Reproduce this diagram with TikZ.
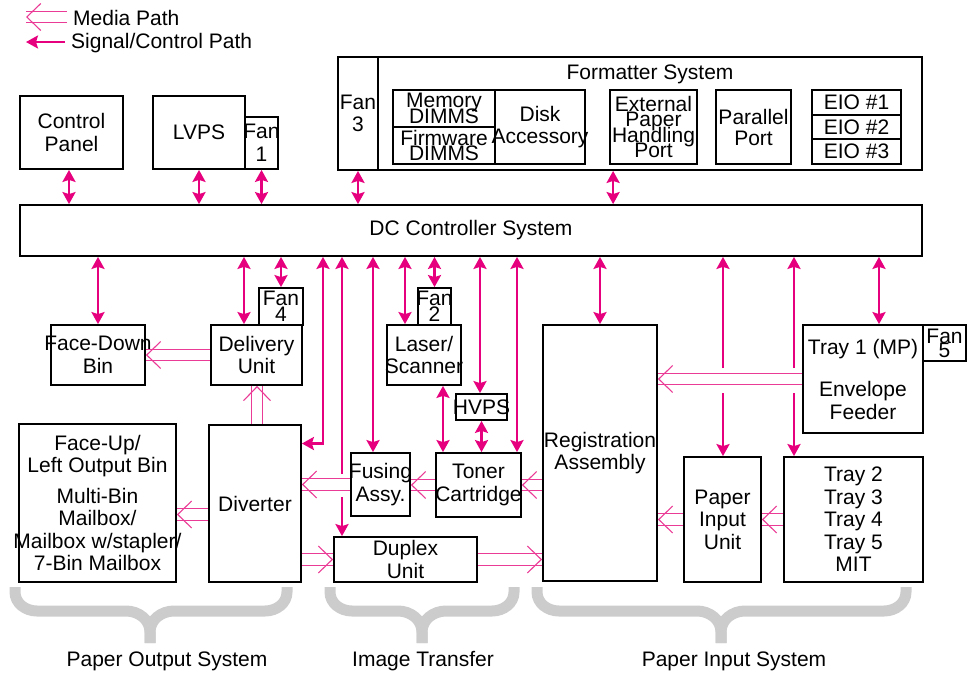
\documentclass[tikz,border=0pt]{standalone}
\usepackage{fontspec}
\setmainfont{Liberation Sans}
\usetikzlibrary{arrows.meta,positioning,calc,decorations.markings}
\definecolor{sigpink}{HTML}{E6007E}
\definecolor{medpink}{HTML}{EA3C96}
\newcommand\tightfont[1]{\fontsize{21}{#1}\selectfont\lineskiplimit-100pt\relax}
\tikzset{
  blk/.style={draw, line width=1.8pt, align=center, inner xsep=-25pt, inner ysep=-6pt,
              font=\fontsize{21}{22.5}\selectfont},
  tight/.style={font=\tightfont{15.5}},
  sig/.style={draw=sigpink, line width=2.4pt},
  media/.style={draw=medpink, line width=1.1pt, double=white, double distance=10.5pt,
    postaction={decorate, decoration={markings, mark=at position 1 with
      {\pgfsetinnerlinewidth{0pt}\arrow{Straight Barb[length=14pt,width=27pt,line width=1.1pt]}}}}},
  brc/.style={draw=black!20, line width=11pt},
  lbl/.style={font=\fontsize{21}{22.5}\selectfont, inner sep=0pt},
}
\begin{document}
\begin{tikzpicture}[x=1pt, y=-1pt, >={Stealth[length=12pt,width=13pt,inset=2pt]}]
    \useasboundingbox (0,0) rectangle (968,675);
    \coordinate (lgm0) at (67,17);
    \coordinate (lgm1) at (26,17);
    \coordinate (lgs0) at (65,42);
    \coordinate (lgs1) at (26,42);
    \draw[media] (lgm0) -- (lgm1);
    \draw[sig,->] (lgs0) -- (lgs1);
    \node[lbl, anchor=west] (lgmed) at (73,18) {Media Path};
    \node[lbl, anchor=west] (lgsig) at (71,43) {Signal/Control Path};

    \node[blk, minimum width=103, minimum height=73] (cpanel) at (71.5,132.5) {Control\\Panel};
    \node[blk, minimum width=92, minimum height=73] (lvps) at (199,132.5) {LVPS};
    \node[blk, minimum width=33, minimum height=52] (fan1) at (261.5,143) {Fan\\1};
    \node[blk, minimum width=40, minimum height=113] (fan3) at (358,113.5) {Fan\\3};
    \node[blk, minimum width=544, minimum height=113] (fmt) at (650,113.5) {};
    \node[lbl] (fmttitle) at (650,74) {Formatter System};
    \node[blk, tight, minimum width=102, minimum height=37] (mem) at (444,108.5) {Memory\\DIMMS};
    \node[blk, tight, minimum width=102, minimum height=37] (fw) at (444,145.5) {Firmware\\DIMMS};
    \node[blk, minimum width=90, minimum height=74] (disk) at (540,127) {Disk\\Accessory};
    \node[blk, tight, minimum width=87, minimum height=74] (eph) at (653.5,127) {External\\Paper\\Handling\\Port};
    \node[blk, font=\tightfont{21}, minimum width=75, minimum height=74] (par) at (753.5,127) {Parallel\\Port};
    \node[blk, minimum width=89, minimum height=24.7] (eio1) at (856.5,102.3) {EIO \#1};
    \node[blk, minimum width=89, minimum height=24.7] (eio2) at (856.5,127) {EIO \#2};
    \node[blk, minimum width=89, minimum height=24.7] (eio3) at (856.5,151.7) {EIO \#3};
    \node[blk, minimum width=902, minimum height=51] (dc) at (471,230.5) {DC Controller System};

    \node[blk, minimum width=94, minimum height=60] (fdown) at (98,355) {Face-Down\\Bin};
    \node[blk, minimum width=91, minimum height=60] (deliv) at (256.5,355) {Delivery\\Unit};
    \node[blk, tight, minimum width=44, minimum height=37] (fan4) at (281,306.5) {Fan\\4};
    \node[blk, minimum width=157, minimum height=158] (faceup) at (97.5,503) {Face-Up/\\Left Output Bin\\[8pt]Multi-Bin\\Mailbox/\\Mailbox w/stapler/\\7-Bin Mailbox};
    \node[blk, minimum width=92, minimum height=157] (divert) at (255,503.5) {Diverter};
    \node[blk, minimum width=74, minimum height=60] (laser) at (424,355) {Laser/\\Scanner};
    \node[blk, tight, minimum width=33, minimum height=37] (fan2) at (434.5,306.5) {Fan\\2};
    \node[blk, minimum width=51, minimum height=26] (hvps) at (481.5,407) {HVPS};
    \node[blk, minimum width=59, minimum height=63] (fusing) at (380.5,484.5) {Fusing\\Assy.};
    \node[blk, minimum width=85, minimum height=64] (toner) at (478.5,485) {Toner\\Cartridge};
    \node[blk, minimum width=143, minimum height=45] (duplex) at (405.5,559.5) {Duplex\\Unit};
    \node[blk, minimum width=114, minimum height=256] (regist) at (600,453) {Registration\\Assembly};
    \node[blk, minimum width=120, minimum height=108] (tray1) at (863,379) {Tray 1 (MP)\\[20pt]Envelope\\Feeder};
    \node[blk, font=\tightfont{14}, minimum width=43, minimum height=36] (fan5) at (944.5,343) {Fan\\5};
    \node[blk, minimum width=77, minimum height=125] (pinput) at (722.5,519.5) {Paper\\Input\\Unit};
    \node[blk, minimum width=139, minimum height=125] (trays) at (853.5,519.5) {Tray 2\\Tray 3\\Tray 4\\Tray 5\\MIT};

    \draw[sig,<->] ([xshift=-2.5]cpanel.south) -- ([xshift=-2.5]cpanel.south |- dc.north);
    \draw[sig,<->] (lvps.south) -- (lvps.south |- dc.north);
    \draw[sig,<->] (fan1.south) -- (fan1.south |- dc.north);
    \draw[sig,<->] (fan3.south) -- (fan3.south |- dc.north);
    \draw[sig,<->] ([xshift=4]eph.west |- fmt.south) -- ([xshift=4]eph.west |- dc.north);

    \draw[sig,<->] (fdown.north) -- (fdown.north |- dc.south);
    \draw[sig,<->] ([xshift=-12.5]deliv.north) -- ([xshift=-12.5]deliv.north |- dc.south);
    \draw[sig,<->] (fan4.north) -- (fan4.north |- dc.south);
    \draw[sig,<->] (dc.south -| 323,0) |- ([yshift=60]divert.east);
    \coordinate (dx1) at (342,474);
    \coordinate (dx2) at (342,497);
    \draw[sig,->] (dx1) -- (dx1 |- dc.south);
    \draw[sig,->] (dx2) -- (dx2 |- duplex.north);
    \draw[sig,<->] ([xshift=-7.5]fusing.north) -- ([xshift=-7.5]fusing.north |- dc.south);
    \draw[sig,<->] ([xshift=-19]laser.north) -- ([xshift=-19]laser.north |- dc.south);
    \draw[sig,<->] (fan2.north) -- (fan2.north |- dc.south);
    \draw[sig,<->] ([xshift=-1.5]hvps.north) -- ([xshift=-1.5]hvps.north |- dc.south);
    \draw[sig,<->] ([xshift=38.5]toner.north) -- ([xshift=38.5]toner.north |- dc.south);
    \draw[sig,<->] (regist.north) -- (regist.north |- dc.south);
    \coordinate (pi1) at (723,368);
    \coordinate (pi2) at (723,393);
    \draw[sig,->] (pi1) -- (pi1 |- dc.south);
    \draw[sig,->] (pi2) -- (pi2 |- pinput.north);
    \coordinate (tr1) at (794,368);
    \coordinate (tr2) at (794,393);
    \draw[sig,->] (tr1) -- (tr1 |- dc.south);
    \draw[sig,->] (tr2) -- (tr2 |- trays.north);
    \draw[sig,<->] ([xshift=16]tray1.north) -- ([xshift=16]tray1.north |- dc.south);
    \draw[sig,<->] ([xshift=19]laser.south) -- ([xshift=19]laser.south |- toner.north);
    \draw[sig,<->] (hvps.south) -- (hvps.south |- toner.north);

    \draw[media] (deliv.west) -- (deliv.west -| fdown.east);
    \draw[media] ([xshift=2]divert.north) -- ([xshift=2]divert.north |- deliv.south);
    \draw[media] (fusing.west) -- (fusing.west -| divert.east);
    \draw[media] (toner.west) -- (toner.west -| fusing.east);
    \draw[media] (regist.west |- toner.west) -- (toner.east);
    \draw[media] ([yshift=-11]divert.west) -- ([yshift=-11]divert.west -| faceup.east);
    \draw[media] (divert.east |- duplex.west) -- (duplex.west);
    \draw[media] (duplex.east) -- (duplex.east -| regist.west);
    \draw[media] (tray1.west) -- (tray1.west -| regist.east);
    \draw[media] (pinput.west) -- (pinput.west -| regist.east);
    \draw[media] (trays.west) -- (trays.west -| pinput.east);

    \draw[brc] (15,587) -- (15,592) to[out=-90,in=180] (37,611) -- (126,611) to[out=0,in=90] (150,632) -- (150,643);
    \draw[brc] (287,587) -- (287,592) to[out=-90,in=0] (265,611) -- (174,611) to[out=180,in=90] (150,632) -- (150,643);
    \draw[brc] (330,587) -- (330,592) to[out=-90,in=180] (352,611) -- (398,611) to[out=0,in=90] (422,632) -- (422,643);
    \draw[brc] (514,587) -- (514,592) to[out=-90,in=0] (492,611) -- (446,611) to[out=180,in=90] (422,632) -- (422,643);
    \draw[brc] (537,587) -- (537,592) to[out=-90,in=180] (559,611) -- (697,611) to[out=0,in=90] (721,632) -- (721,643);
    \draw[brc] (906,587) -- (906,592) to[out=-90,in=0] (884,611) -- (745,611) to[out=180,in=90] (721,632) -- (721,643);
    \node[lbl] (outsys) at (167,661.5) {Paper Output System};
    \node[lbl] (imgtr) at (423,661.5) {Image Transfer};
    \node[lbl] (insys) at (734,661.5) {Paper Input System};
\end{tikzpicture}
\end{document}
